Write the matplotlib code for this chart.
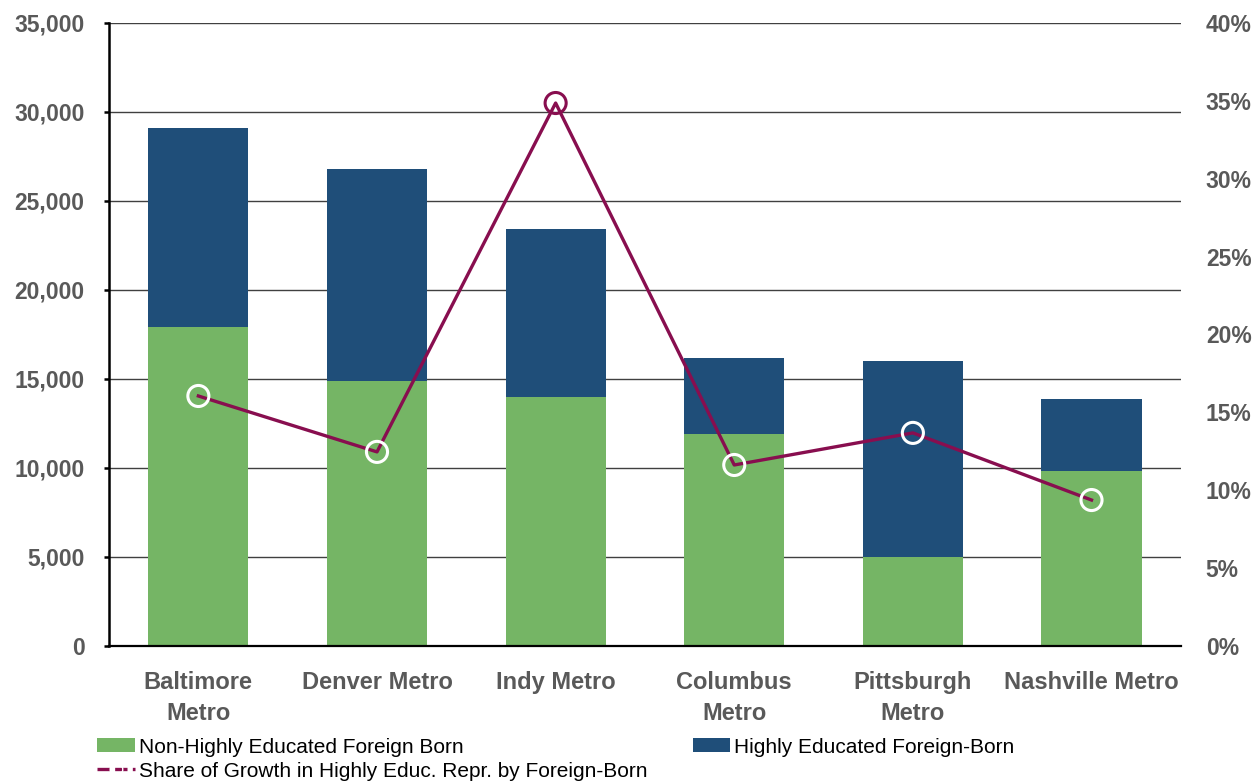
import matplotlib.pyplot as plt
import matplotlib.ticker as mticker
from matplotlib.lines import Line2D
from matplotlib.patches import Patch
import numpy as np

GREEN = "#75B565"
BLUE = "#1F4E79"
LINE = "#880E4F"
GREY = "#595959"

metros = ["Baltimore\nMetro", "Denver Metro", "Indy Metro", "Columbus\nMetro",
          "Pittsburgh\nMetro", "Nashville Metro"]
non_highly_educated = [17900, 14900, 14000, 11900, 5000, 9850]
highly_educated = [11200, 11900, 9400, 4300, 11000, 4050]
share_growth = [0.1605, 0.1246, 0.3486, 0.1162, 0.1368, 0.0937]

plt.rcParams["font.family"] = ["Liberation Sans", "DejaVu Sans"]

fig = plt.figure(figsize=(12.55, 7.81), dpi=100)
ax = fig.add_axes([0.0869, 0.1729, 0.854, 0.7977])
x = np.arange(len(metros))

ax.bar(x, non_highly_educated, width=0.56, color=GREEN, zorder=2)
ax.bar(x, highly_educated, width=0.56, bottom=non_highly_educated, color=BLUE, zorder=2)

ax.set_ylim(0, 35000)
ax.set_xlim(-0.5, len(metros) - 0.5)
ax.yaxis.set_major_locator(mticker.MultipleLocator(5000))
ax.yaxis.set_major_formatter(mticker.StrMethodFormatter("{x:,.0f}"))
ax.grid(axis="y", color="#404040", linewidth=1, zorder=0)
for s in ["top", "right"]:
    ax.spines[s].set_visible(False)
ax.spines["bottom"].set_color("black")
ax.spines["bottom"].set_linewidth(1.6)
ax.spines["left"].set_color("black")
ax.spines["left"].set_linewidth(1.8)
ax.tick_params(axis="y", direction="out", length=3.6, width=1.8, color="black",
               labelsize=16.5, labelcolor=GREY, pad=14)
ax.tick_params(axis="x", length=0, labelsize=17, labelcolor=GREY, pad=18)
ax.set_xticks(x)
ax.set_xticklabels(metros, fontweight="bold", linespacing=1.45)
for lab in ax.get_yticklabels():
    lab.set_fontweight("bold")

ax2 = ax.twinx()
ax2.set_ylim(0, 0.40)
ax2.yaxis.set_major_locator(mticker.MultipleLocator(0.05))
ax2.yaxis.set_major_formatter(mticker.PercentFormatter(1.0, decimals=0))
for s in ["top", "right", "bottom", "left"]:
    ax2.spines[s].set_visible(False)
ax2.tick_params(axis="y", length=0, labelsize=16.5, labelcolor=GREY, pad=18)
for lab in ax2.get_yticklabels():
    lab.set_fontweight("bold")

ax2.plot(x, share_growth, color=LINE, linewidth=2.4, zorder=3)
edge = ["white"] * len(x)
edge[int(np.argmax(share_growth))] = LINE
ax2.scatter(x, share_growth, s=230, facecolors="none", edgecolors=edge,
            linewidths=2.2, zorder=4)

leg_kw = dict(frameon=False, prop={"size": 15}, labelcolor="black",
              handlelength=1.8, handleheight=0.67, handletextpad=0.2,
              borderaxespad=0, borderpad=0, loc="center left")
fig.legend(handles=[Patch(facecolor=GREEN, label="Non-Highly Educated Foreign Born")],
           bbox_to_anchor=(0.0773, 0.0435), **leg_kw)
fig.legend(handles=[Patch(facecolor=BLUE, label="Highly Educated Foreign-Born")],
           bbox_to_anchor=(0.552, 0.0435), **leg_kw)
fig.legend(handles=[Line2D([0], [0], color=LINE, linewidth=2.4, linestyle="--",
                           marker="o", markersize=9, markerfacecolor="none",
                           markeredgecolor="white",
                           label="Share of Growth in Highly Educ. Repr. by Foreign-Born")],
           bbox_to_anchor=(0.0773, 0.0128), **leg_kw)

fig.savefig("out.png", dpi=100)
